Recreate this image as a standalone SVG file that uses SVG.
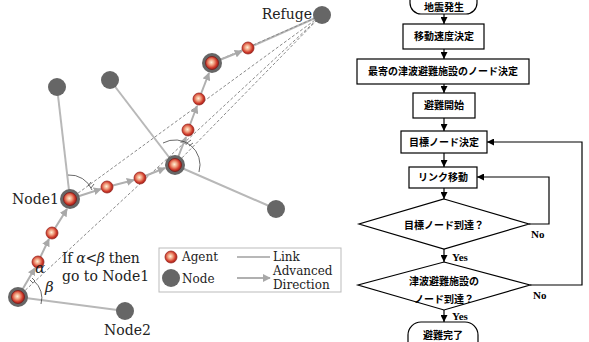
<svg xmlns="http://www.w3.org/2000/svg" width="589" height="342" viewBox="0 0 589 342">
  <defs>
    <radialGradient id="agentFill" cx="0.45" cy="0.45" r="0.6">
      <stop offset="0" stop-color="#fff2d8"/>
      <stop offset="0.35" stop-color="#f0a080"/>
      <stop offset="0.7" stop-color="#d03a2a"/>
      <stop offset="1" stop-color="#8e1a18"/>
    </radialGradient>
    <marker id="advance" viewBox="0 0 10 10" refX="9" refY="5" markerWidth="8" markerHeight="8" markerUnits="userSpaceOnUse" orient="auto">
      <path d="M0,0 L10,5 L0,10 Z" fill="#a8a8a8"/>
    </marker>
    <marker id="flow" viewBox="0 0 10 10" refX="10" refY="5" markerWidth="7" markerHeight="7" markerUnits="userSpaceOnUse" orient="auto">
      <path d="M0,0 L10,5 L0,10 Z" fill="#000"/>
    </marker>
    <g id="agent"><circle r="6" fill="url(#agentFill)" stroke="#9a2a22" stroke-width="0.8"/></g>
    <g id="agentOnNode"><circle r="10" fill="#666"/><circle r="6.5" fill="url(#agentFill)" stroke="#7a1a18" stroke-width="0.8"/></g>
  </defs>
  <style>
    .link { stroke: #b8b8b8; stroke-width: 2; fill: none; }
    .adv { stroke: #b0b0b0; stroke-width: 2; fill: none; marker-end: url(#advance); }
    .dash { stroke: #8a8a8a; stroke-width: 1; stroke-dasharray: 3 2; fill: none; }
    .arc { stroke: #444; stroke-width: 0.8; fill: none; }
    .node { fill: #666; }
    .lbl { font-family: "DejaVu Serif", "Liberation Serif", serif; font-size: 14px; fill: #222; }
    .greek { font-family: "DejaVu Serif", "Liberation Serif", serif; font-style: italic; font-size: 15px; fill: #222; }
    .leg { font-family: "DejaVu Serif", "Liberation Serif", serif; font-size: 12px; fill: #222; }
    .box { fill: #fff; stroke: #000; stroke-width: 1.2; }
    .ftx { font-family: "Noto Sans CJK JP", "Noto Sans", sans-serif; font-weight: bold; font-size: 10px; fill: #000; text-anchor: middle; }
    .yn { font-family: "Liberation Serif", serif; font-weight: bold; font-size: 11px; fill: #000; }
    .fla { stroke: #000; stroke-width: 1.2; fill: none; marker-end: url(#flow); }
  </style>

  <!-- network links -->
  <g id="links">
    <line class="link" x1="57" y1="87" x2="70" y2="199"/>
    <line class="link" x1="110" y1="80" x2="175" y2="165"/>
    <line class="link" x1="175" y1="165" x2="276" y2="209"/>
    <line class="link" x1="18" y1="297" x2="125" y2="311"/>
    <line class="link" x1="248" y1="48" x2="322" y2="15"/>
  </g>

  <!-- straight lines towards the refuge -->
  <g id="sightlines">
    <line class="dash" x1="18" y1="297" x2="322" y2="15"/>
    <line class="dash" x1="70" y1="199" x2="322" y2="15"/>
    <line class="dash" x1="175" y1="165" x2="322" y2="15"/>
    <line class="dash" x1="212" y1="63" x2="322" y2="15"/>
  </g>

  <!-- advanced direction of the agent -->
  <g id="connectors">
    <line class="adv" x1="18" y1="297" x2="35" y2="268"/>
    <line class="adv" x1="38" y1="262" x2="49" y2="239"/>
    <line class="adv" x1="52" y1="233" x2="67" y2="209"/>
    <line class="adv" x1="70" y1="199" x2="101" y2="189"/>
    <line class="adv" x1="107" y1="187" x2="134" y2="180"/>
    <line class="adv" x1="140" y1="178" x2="165" y2="168"/>
    <line class="adv" x1="175" y1="165" x2="186" y2="137"/>
    <line class="adv" x1="188" y1="130" x2="197" y2="106"/>
    <line class="adv" x1="199" y1="99" x2="209" y2="73"/>
    <line class="adv" x1="212" y1="63" x2="242" y2="51"/>
  </g>

  <!-- angle marks -->
  <g id="angles">
    <path class="arc" d="M 163 143 A 25 25 0 0 1 199 172"/>
    <path class="arc" d="M 68 175 A 24 24 0 0 1 92 190"/>
    <path class="arc" d="M 34 281 A 22 22 0 0 1 41 304"/>
    <path class="arc" d="M 187 143 l 4 -3 M 189 146 l 4 -3"/>
    <path class="arc" d="M 88 186 l 3 -4 M 91 188 l 3 -4"/>
    <path class="arc" d="M 30 280 l 3 3 M 32 278 l 3 3"/>
  </g>

  <!-- plain nodes -->
  <g id="node-a"><circle class="node" cx="57" cy="87" r="9"/></g>
  <g id="node-b"><circle class="node" cx="110" cy="80" r="9"/></g>
  <g id="node-c"><circle class="node" cx="276" cy="209" r="9"/></g>
  <g id="node2"><circle class="node" cx="125" cy="311" r="9"/><text class="lbl" x="104" y="335">Node2</text></g>
  <g id="refuge"><circle class="node" cx="322" cy="15" r="9"/><text class="lbl" x="312" y="19" text-anchor="end">Refuge</text></g>

  <!-- nodes occupied by the agent -->
  <g id="start"><use href="#agentOnNode" x="18" y="297"/></g>
  <g id="node1"><use href="#agentOnNode" x="70" y="199"/><text class="lbl" x="12" y="204">Node1</text></g>
  <g id="node-d"><use href="#agentOnNode" x="175" y="165"/></g>
  <g id="node-e"><use href="#agentOnNode" x="212" y="63"/></g>

  <!-- agent positions -->
  <g id="agents">
    <use href="#agent" x="38" y="262"/>
    <use href="#agent" x="52" y="233"/>
    <use href="#agent" x="107" y="187"/>
    <use href="#agent" x="140" y="178"/>
    <use href="#agent" x="188" y="130"/>
    <use href="#agent" x="199" y="99"/>
    <use href="#agent" x="248" y="48"/>
  </g>

  <!-- decision rule -->
  <g id="rule">
    <text class="greek" x="35" y="273">α</text>
    <text class="greek" x="45" y="292">β</text>
    <text class="lbl" x="62" y="263" letter-spacing="-0.3">If <tspan font-style="italic">α</tspan>&lt;<tspan font-style="italic">β</tspan> then</text>
    <text class="lbl" x="62" y="281">go to Node1</text>
  </g>

  <!-- legend -->
  <g id="legend">
    <rect x="159" y="248" width="182" height="44" fill="#fff" stroke="#bbb" stroke-width="1"/>
    <use href="#agent" x="171" y="257"/>
    <text class="leg" x="182" y="261">Agent</text>
    <circle class="node" cx="171" cy="278" r="9"/>
    <text class="leg" x="182" y="283">Node</text>
    <line class="link" x1="237" y1="257" x2="270" y2="257"/>
    <text class="leg" x="273" y="261">Link</text>
    <line class="adv" x1="237" y1="278" x2="270" y2="278"/>
    <text class="leg" x="273" y="275">Advanced</text>
    <text class="leg" x="273" y="289">Direction</text>
  </g>

  <!-- flowchart -->
  <g id="fc-start"><rect class="box" x="410" y="-12" width="67" height="26" rx="11"/><text class="ftx" x="444" y="11">地震発生</text></g>
  <g id="fc-speed"><rect class="box" x="403" y="24" width="81" height="25"/><text class="ftx" x="444" y="40">移動速度決定</text></g>
  <g id="fc-refuge"><rect class="box" x="357" y="59" width="172" height="25"/><text class="ftx" x="443" y="75">最寄の津波避難施設のノード決定</text></g>
  <g id="fc-begin"><rect class="box" x="413" y="93" width="62" height="25"/><text class="ftx" x="444" y="109">避難開始</text></g>
  <g id="fc-target"><rect class="box" x="401" y="131" width="86" height="22"/><text class="ftx" x="444" y="146">目標ノード決定</text></g>
  <g id="fc-move"><rect class="box" x="409" y="167" width="68" height="21"/><text class="ftx" x="443" y="181">リンク移動</text></g>
  <g id="fc-reach"><path class="box" d="M444 199 L529 224 L444 249 L359 224 Z"/><text class="ftx" x="444" y="229">目標ノード到達？</text></g>
  <g id="fc-refreach"><path class="box" d="M444 262 L530 285 L444 310 L358 285 Z"/><text class="ftx" x="444" y="285">津波避難施設の</text><text class="ftx" x="444" y="303">ノード到達？</text></g>
  <g id="fc-end"><rect class="box" x="408" y="322" width="70" height="34" rx="13"/><text class="ftx" x="443" y="339">避難完了</text></g>

  <g id="flow-connectors">
    <line class="fla" x1="444" y1="14" x2="444" y2="24"/>
    <line class="fla" x1="444" y1="49" x2="444" y2="59"/>
    <line class="fla" x1="444" y1="84" x2="444" y2="93"/>
    <line class="fla" x1="444" y1="118" x2="444" y2="131"/>
    <line class="fla" x1="444" y1="153" x2="444" y2="167"/>
    <line class="fla" x1="444" y1="188" x2="444" y2="199"/>
    <line class="fla" x1="444" y1="249" x2="444" y2="262"/>
    <line class="fla" x1="444" y1="310" x2="444" y2="322"/>
    <polyline class="fla" points="529,224 549,224 549,177 477,177"/>
    <polyline class="fla" points="530,285 582,285 582,142 487,142"/>
    <text class="yn" x="452" y="261">Yes</text>
    <text class="yn" x="452" y="320">Yes</text>
    <text class="yn" x="531" y="238">No</text>
    <text class="yn" x="533" y="299">No</text>
  </g>
</svg>
